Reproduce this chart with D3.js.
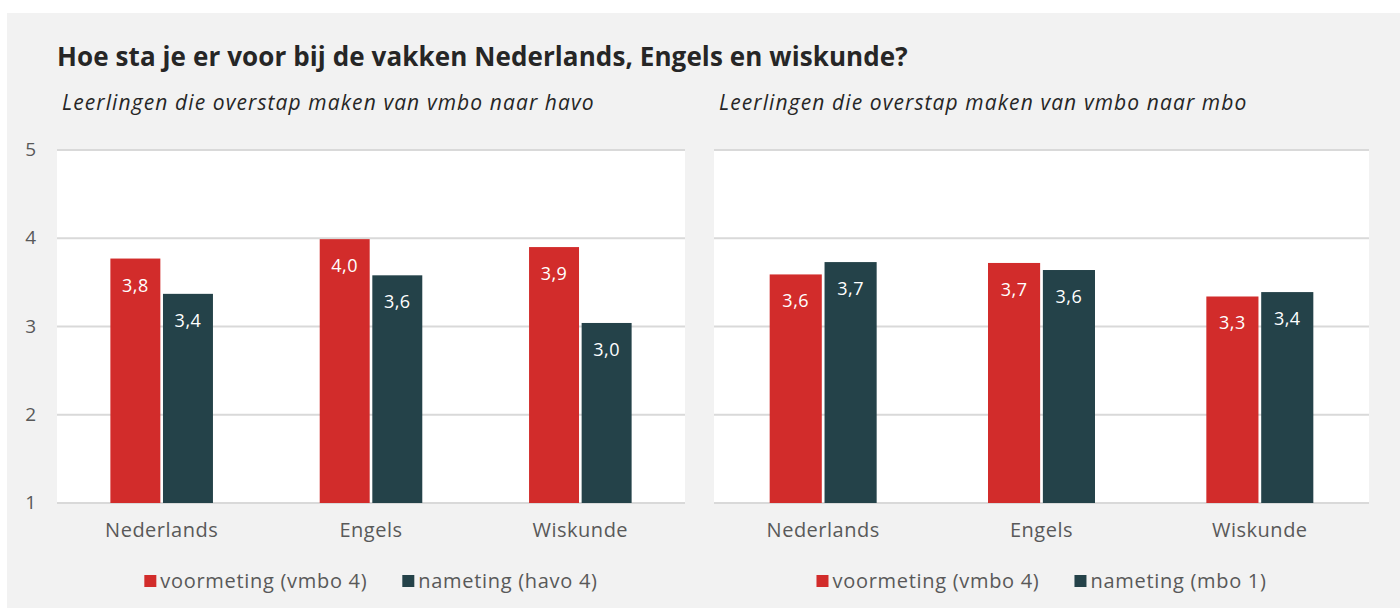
<!DOCTYPE html>
<html>
<head>
<meta charset="utf-8">
<script src="https://cdn.jsdelivr.net/npm/d3@7"></script>
<style>
  body { margin: 0; background: #fff; }
  svg { display: block; font-family: "Open Sans", Lato, sans-serif; }
</style>
</head>
<body>
<div id="chart"></div>
<script>
const categories = ["Nederlands", "Engels", "Wiskunde"];
const havoVoor = [3.77, 3.99, 3.90];
const havoNa = [3.37, 3.58, 3.04];
const mboVoor = [3.59, 3.72, 3.34];
const mboNa = [3.73, 3.64, 3.39];
const yTicks = [1, 2, 3, 4, 5];
const seriesHavo = ["voormeting (vmbo 4)", "nameting (havo 4)"];
const seriesMbo = ["voormeting (vmbo 4)", "nameting (mbo 1)"];
const title = "Hoe sta je er voor bij de vakken Nederlands, Engels en wiskunde?";
const subHavo = "Leerlingen die overstap maken van vmbo naar havo";
const subMbo = "Leerlingen die overstap maken van vmbo naar mbo";

const WIDTH = 1400;
const HEIGHT = 610;
const COLORS = ["#d22c2b", "#244249"];
const TEXT = "#595959";

const svg = d3
  .select("#chart")
  .append("svg")
  .attr("width", WIDTH)
  .attr("height", HEIGHT);

// grey card
svg
  .append("rect")
  .attr("x", 7)
  .attr("y", 13)
  .attr("width", WIDTH - 7)
  .attr("height", 595)
  .style("fill", "#f2f2f2");

svg
  .append("text")
  .attr("x", 57)
  .attr("y", 66)
  .style("font-size", "26px")
  .style("font-weight", "700")
  .style("letter-spacing", "0.1px")
  .style("fill", "#262626")
  .text(title);

const y = d3.scaleLinear().domain([1, 5]).range([503, 150]);

// left y axis labels (shared)
svg
  .append("g")
  .selectAll("text")
  .data(yTicks)
  .enter()
  .append("text")
  .attr("x", 36)
  .attr("y", (d) => y(d) + 6)
  .style("text-anchor", "end")
  .style("font-size", "19px")
  .style("fill", TEXT)
  .text((d) => d);

function drawPanel(left, right, subtitle, voor, na, series) {
  const g = svg.append("g");
  const data = categories.map((c, i) => ({ cat: c, values: [voor[i], na[i]] }));

  g.append("text")
    .attr("x", left + 5)
    .attr("y", 110)
    .style("font-size", "21px")
    .style("font-style", "italic")
    .style("letter-spacing", "1.1px")
    .style("fill", "#262626")
    .text(subtitle);

  g.append("rect")
    .attr("x", left)
    .attr("y", y(5))
    .attr("width", right - left)
    .attr("height", y(1) - y(5))
    .style("fill", "#fff");

  g.selectAll("line.grid")
    .data(yTicks)
    .enter()
    .append("line")
    .attr("class", "grid")
    .attr("x1", left)
    .attr("x2", right)
    .attr("y1", (d) => y(d))
    .attr("y2", (d) => y(d))
    .style("stroke", "#d9d9d9")
    .style("stroke-width", "2px");

  const x0 = d3
    .scaleBand()
    .domain(categories)
    .range([left, right])
    .paddingInner(0.51)
    .paddingOuter(0.255);
  const x1 = d3
    .scaleBand()
    .domain([0, 1])
    .range([0, x0.bandwidth()])
    .paddingInner(0.05);

  const groups = g
    .selectAll("g.cat")
    .data(data)
    .enter()
    .append("g")
    .attr("class", "cat")
    .attr("transform", (d) => `translate(${x0(d.cat)},0)`);

  groups
    .selectAll("rect")
    .data((d) => d.values)
    .enter()
    .append("rect")
    .attr("x", (d, i) => x1(i))
    .attr("y", (d) => y(d))
    .attr("width", x1.bandwidth())
    .attr("height", (d) => y(1) - y(d))
    .style("fill", (d, i) => COLORS[i]);

  groups
    .selectAll("text")
    .data((d) => d.values)
    .enter()
    .append("text")
    .attr("x", (d, i) => x1(i) + x1.bandwidth() / 2)
    .attr("y", (d) => y(d) + 33)
    .style("text-anchor", "middle")
    .style("font-size", "18px")
    .style("letter-spacing", "0.5px")
    .style("fill", "#fff")
    .text((d) => d.toFixed(1).replace(".", ","));

  g.selectAll("text.xlab")
    .data(categories)
    .enter()
    .append("text")
    .attr("class", "xlab")
    .attr("x", (d) => x0(d) + x0.bandwidth() / 2)
    .attr("y", 537)
    .style("font-size", "20px")
    .style("letter-spacing", "0.5px")
    .style("text-anchor", "middle")
    .style("fill", TEXT)
    .text((d) => d);

  // legend
  const legend = g.append("g");
  let cx = 0;
  series.forEach((s, i) => {
    const item = legend.append("g").attr("transform", `translate(${cx},0)`);
    item
      .append("rect")
      .attr("x", 0)
      .attr("y", 575)
      .attr("width", 12)
      .attr("height", 12)
      .style("fill", COLORS[i]);
    const t = item
      .append("text")
      .attr("x", 16)
      .attr("y", 588)
      .style("font-size", "20px")
      .style("letter-spacing", "0.7px")
      .style("fill", TEXT)
      .text(s);
    cx += 16 + t.node().getComputedTextLength() + 35;
  });
  const lw = cx - 35;
  legend.attr("transform", `translate(${(left + right) / 2 - lw / 2},0)`);
}

drawPanel(57, 685, subHavo, havoVoor, havoNa, seriesHavo);
drawPanel(714, 1369, subMbo, mboVoor, mboNa, seriesMbo);
</script>
</body>
</html>
